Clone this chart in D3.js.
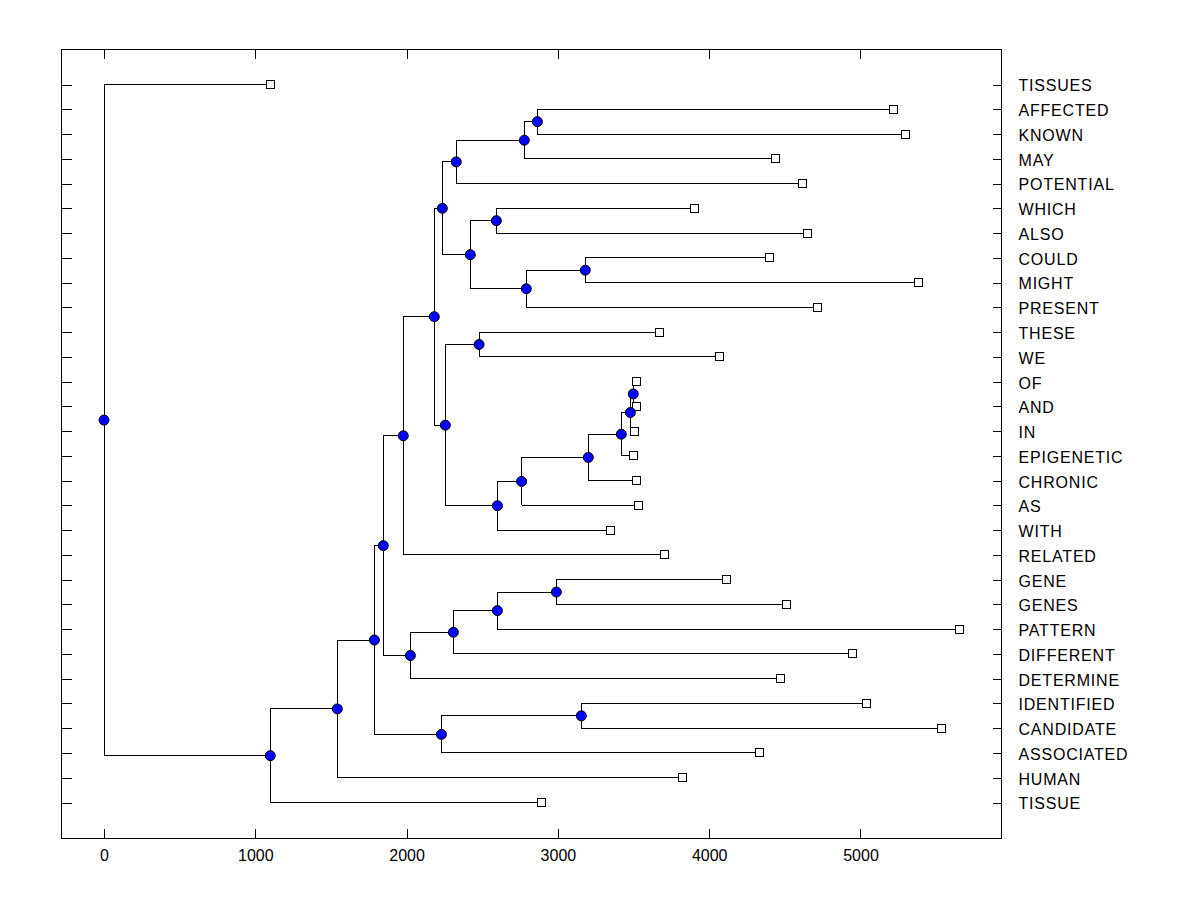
<!DOCTYPE html>
<html>
<head>
<meta charset="utf-8">
<script src="https://cdn.jsdelivr.net/npm/d3@7"></script>
<style>
  body { margin: 0; background: #fff; }
  svg { display: block; }
  text { font-family: "Liberation Sans", Arial, sans-serif; font-size: 16px; fill: #000; }
</style>
</head>
<body>
<svg id="chart" width="1200" height="900"></svg>
<script>
// Leaves, top to bottom, with the height at which each leaf sits
const leafLabels = ['TISSUES', 'AFFECTED', 'KNOWN', 'MAY', 'POTENTIAL', 'WHICH', 'ALSO', 'COULD', 'MIGHT', 'PRESENT',
  'THESE', 'WE', 'OF', 'AND', 'IN', 'EPIGENETIC', 'CHRONIC', 'AS', 'WITH', 'RELATED',
  'GENE', 'GENES', 'PATTERN', 'DIFFERENT', 'DETERMINE', 'IDENTIFIED', 'CANDIDATE', 'ASSOCIATED', 'HUMAN', 'TISSUE'];
const leafHeights = [1099, 5217, 5296, 4437, 4615, 3902, 4648, 4397, 5382, 4714,
  3670, 4067, 3518, 3518, 3505, 3498, 3518, 3531, 3346, 3703,
  4113, 4510, 5653, 4946, 4470, 5038, 5534, 4331, 3822, 2890];

// Internal nodes: id, height, first child, second child
const nodeIds      = ['root', 'A', 'B', 'C', 'D', 'E', 'F', 'G', 'H', 'I', 'J', 'K', 'L', 'M', 'N',
  'O', 'P', 'Q', 'R', 'S', 'T', 'U', 'V', 'W', 'X', 'Y', 'Z', 'AA', 'BB'];
const nodeHeights  = [0, 1099, 1542, 1787, 1846, 2230, 3155, 1978, 2025, 2309, 2600, 2990, 2183, 2236, 2256,
  2328, 2421, 2778, 2864, 2593, 2791, 3181, 2479, 2600, 2760, 3201, 3419, 3479, 3498];
const nodeChildren = [
  ['TISSUES', 'A'], ['B', 'TISSUE'], ['C', 'HUMAN'], ['D', 'E'], ['G', 'H'], ['F', 'ASSOCIATED'],
  ['IDENTIFIED', 'CANDIDATE'], ['L', 'RELATED'], ['I', 'DETERMINE'], ['J', 'DIFFERENT'], ['K', 'PATTERN'],
  ['GENE', 'GENES'], ['M', 'N'], ['O', 'P'], ['V', 'W'], ['Q', 'POTENTIAL'], ['S', 'T'], ['R', 'MAY'],
  ['AFFECTED', 'KNOWN'], ['WHICH', 'ALSO'], ['U', 'PRESENT'], ['COULD', 'MIGHT'], ['THESE', 'WE'],
  ['X', 'WITH'], ['Y', 'AS'], ['Z', 'CHRONIC'], ['AA', 'EPIGENETIC'], ['BB', 'IN'], ['OF', 'AND']];

const xTicks = [0, 1000, 2000, 3000, 4000, 5000];

function render() {
  const svg = d3.select('#chart');
  const frame = { left: 61.5, right: 1001.5, top: 49.5, bottom: 838.5 };

  const xScale = d3.scaleLinear().domain([-281, 5932]).range([frame.left, frame.right]);
  const yScale = d3.scaleLinear().domain([-1.414, 30.454]).range([frame.top, frame.bottom]);

  // lookup: name -> {h, y}
  const pos = {};
  leafLabels.forEach(function(name, i) { pos[name] = { h: leafHeights[i], y: i }; });
  function place(id) {
    if (pos[id]) return pos[id];
    const k = nodeIds.indexOf(id);
    const a = place(nodeChildren[k][0]);
    const b = place(nodeChildren[k][1]);
    pos[id] = { h: nodeHeights[k], y: (a.y + b.y) / 2 };
    return pos[id];
  }
  place('root');

  const links = svg.append('g').attr('stroke', '#000').attr('stroke-width', 1)
    .attr('shape-rendering', 'crispEdges');
  nodeIds.forEach(function(id, k) {
    const p = pos[id];
    const kids = nodeChildren[k].map(c => pos[c]);
    links.append('line')
      .attr('x1', xScale(p.h)).attr('x2', xScale(p.h))
      .attr('y1', yScale(kids[0].y)).attr('y2', yScale(kids[1].y));
    kids.forEach(function(c) {
      links.append('line')
        .attr('x1', xScale(p.h)).attr('x2', xScale(c.h))
        .attr('y1', yScale(c.y)).attr('y2', yScale(c.y));
    });
  });

  // leaf squares
  svg.append('g').selectAll('rect')
    .data(leafLabels)
    .enter().append('rect')
    .attr('x', d => xScale(pos[d].h) - 4)
    .attr('y', d => yScale(pos[d].y) - 4)
    .attr('width', 8).attr('height', 8)
    .attr('fill', '#fff').attr('stroke', '#000')
    .attr('shape-rendering', 'crispEdges');

  // internal node circles
  svg.append('g').selectAll('circle')
    .data(nodeIds)
    .enter().append('circle')
    .attr('cx', d => xScale(pos[d].h))
    .attr('cy', d => yScale(pos[d].y))
    .attr('r', 5)
    .attr('fill', '#0000ff').attr('stroke', '#000').attr('stroke-width', 1);

  // axes, all ticks pointing inward
  const rows = d3.range(leafLabels.length);

  const bottom = svg.append('g').attr('transform', `translate(0,${frame.bottom})`)
    .call(d3.axisBottom(xScale).tickValues(xTicks).tickFormat(d3.format('d'))
      .tickSizeInner(-10).tickSizeOuter(0).tickPadding(11));
  const top = svg.append('g').attr('transform', `translate(0,${frame.top})`)
    .call(d3.axisTop(xScale).tickValues(xTicks).tickFormat('').tickSizeInner(-9).tickSizeOuter(0));
  const left = svg.append('g').attr('transform', `translate(${frame.left},0)`)
    .call(d3.axisLeft(yScale).tickValues(rows).tickFormat('').tickSizeInner(-10).tickSizeOuter(0));
  const right = svg.append('g').attr('transform', `translate(${frame.right},0)`)
    .call(d3.axisRight(yScale).tickValues(rows).tickFormat(i => leafLabels[i])
      .tickSizeInner(-9).tickSizeOuter(0).tickPadding(17));

  [bottom, top, left, right].forEach(function(g) {
    g.select('.domain').remove();
    g.selectAll('line').attr('stroke', '#000').attr('shape-rendering', 'crispEdges');
    g.selectAll('text').attr('font-size', 16)
      .attr('font-family', '"Liberation Sans", Arial, sans-serif').attr('fill', '#000');
  });
  right.selectAll('text').attr('dy', '0.4em').attr('font-size', 17).style('letter-spacing', '0.8px');

  svg.append('rect')
    .attr('x', frame.left).attr('y', frame.top)
    .attr('width', frame.right - frame.left).attr('height', frame.bottom - frame.top)
    .attr('fill', 'none').attr('stroke', '#000').attr('shape-rendering', 'crispEdges');
}

render();
</script>
</body>
</html>
